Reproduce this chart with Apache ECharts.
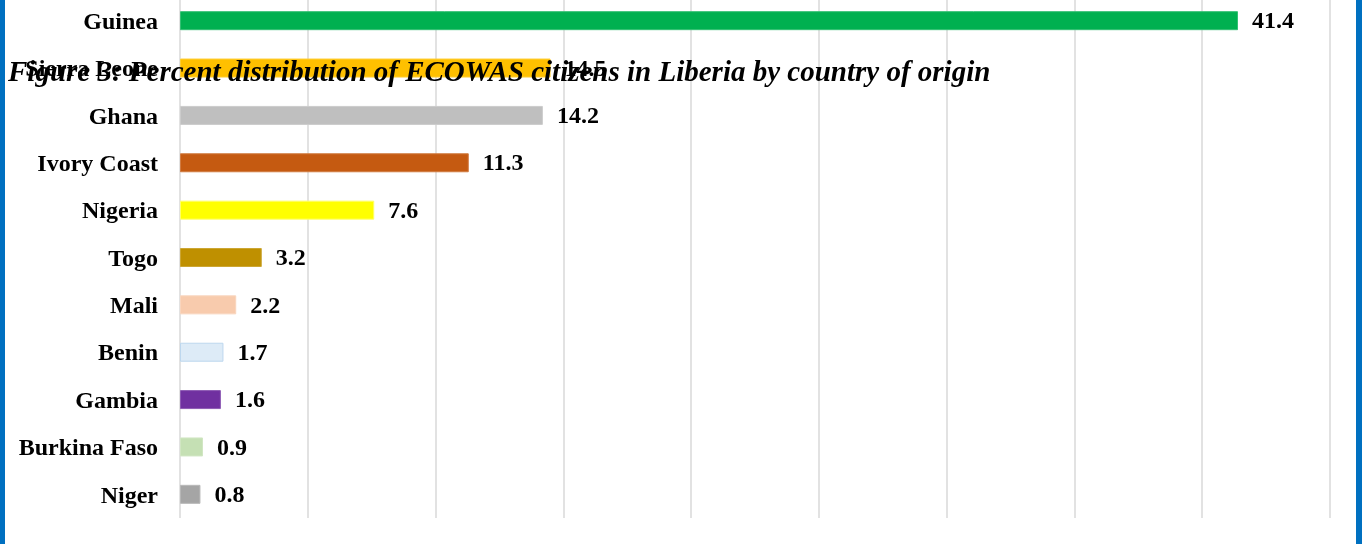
<!DOCTYPE html>
<html>
<head>
<meta charset="utf-8">
<script src="https://cdn.jsdelivr.net/npm/echarts@6/dist/echarts.min.js"></script>
<style>
html,body{margin:0;padding:0;background:#fff;overflow:hidden;}
#chart{width:1362px;height:554px;margin-top:-10px;}
</style>
</head>
<body>
<div id="chart"></div>
<script>
const categories = ['Guinea','Sierra Leone','Ghana','Ivory Coast','Nigeria','Togo','Mali','Benin','Gambia','Burkina Faso','Niger'];
const values = [41.4,14.5,14.2,11.3,7.6,3.2,2.2,1.7,1.6,0.9,0.8];
const barColors = ['#00B050','#FFC000','#BFBFBF','#C55A11','#FFFF00','#BF9000','#F8CBAD','#DDEBF7','#7030A0','#C5E0B4','#A5A5A5'];
const barBorders = ['#33C073','#FFCD33','#CCCCCC','#D17B41','#FFFF66','#CCA633','#F9D5BD','#BDD7EE','#8D59B3','#D1E6C3','#B7B7B7'];
const titleText = 'Figure 3: Percent distribution of ECOWAS citizens in Liberia by country of origin';

const chart = echarts.init(document.getElementById('chart'));
const serif = '"Liberation Serif", "Times New Roman", serif';
chart.setOption({
  animation: false,
  backgroundColor: '#ffffff',
  grid: {left: 180, right: 32, top: 7, bottom: 26, containLabel: false},
  xAxis: {
    type: 'value', min: 0, max: 45, interval: 5,
    axisLabel: {show: false},
    axisLine: {show: false},
    axisTick: {show: false},
    splitLine: {show: true, lineStyle: {color: '#D9D9D9', width: 1.5}}
  },
  yAxis: {
    type: 'category', inverse: true, data: categories,
    axisLine: {show: false},
    axisTick: {show: false},
    axisLabel: {
      margin: 22,
      formatter: v => '{a|' + v + '}',
      rich: {a: {fontFamily: serif, fontWeight: 'bold', fontSize: 24, color: '#000', padding: [4, 0, 0, 0]}}
    }
  },
  series: [{
    type: 'bar',
    barWidth: 19,
    data: values.map((v, i) => ({value: v, itemStyle: {color: barColors[i], borderColor: barBorders[i], borderWidth: 1}})),
    label: {show: true, position: 'right', distance: 14, offset: [0, 1.5], fontFamily: serif, fontWeight: 'bold', fontSize: 24, color: '#000'}
  }],
  graphic: [
    {type: 'rect', left: 0, top: 0, shape: {width: 5, height: 554}, style: {fill: '#0070C0'}, z: 100},
    {type: 'rect', left: 1356, top: 0, shape: {width: 6, height: 554}, style: {fill: '#0070C0'}, z: 100},
    {type: 'text', left: 8, top: 69, z: 100, style: {text: titleText, font: 'italic bold 29px ' + serif, fill: '#000'}}
  ]
});
</script>
</body>
</html>
